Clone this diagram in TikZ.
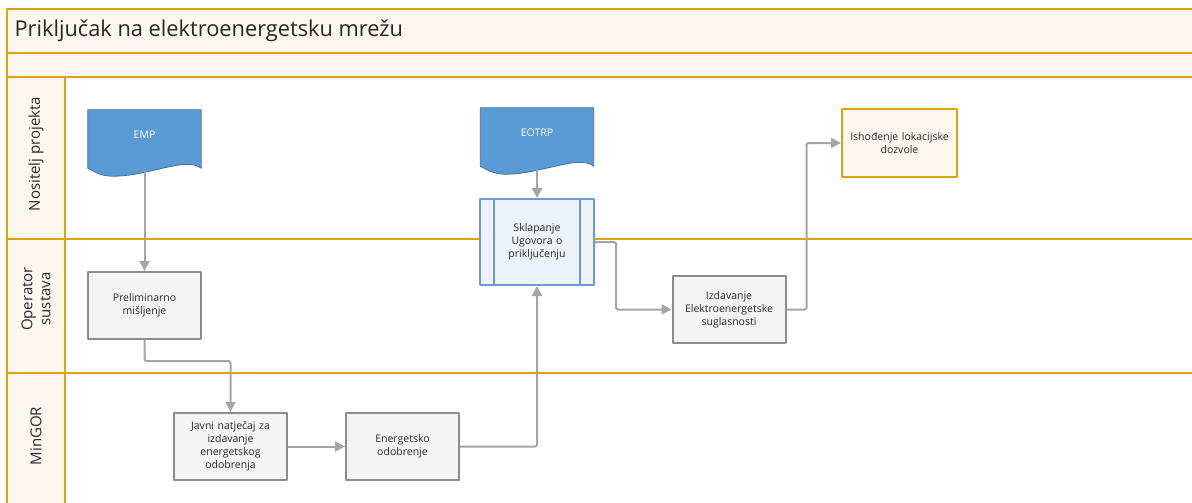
\documentclass[tikz,border=0pt]{standalone}
\usepackage{fontspec}
\setmainfont{Open Sans}
\usetikzlibrary{positioning,arrows.meta}
\definecolor{laneline}{HTML}{DBA411}
\definecolor{headfill}{HTML}{FEF7F0}
\definecolor{boxfill}{HTML}{F4F4F4}
\definecolor{boxdraw}{HTML}{8C8C8C}
\definecolor{docblue}{HTML}{5B9BD5}
\definecolor{docedge}{HTML}{41719C}
\definecolor{procfill}{HTML}{EEF3FA}
\definecolor{procedge}{HTML}{6A9BD3}
\definecolor{flowgray}{HTML}{A5A5A5}
\begin{document}
\begin{tikzpicture}[x=1pt,y=-1pt,line join=round,>={Triangle[length=10pt,width=10pt]}]
	\tikzset{
		every node/.style={font=\fontsize{10.5}{13}\selectfont, align=center, text=black!85},
		taskbox/.style={draw=boxdraw, fill=boxfill, line width=2pt, minimum width=113pt, minimum height=67pt, text width=104pt, inner sep=2pt},
		docbox/.style={minimum width=113pt, minimum height=58pt, inner sep=0pt},
		docshape/.style={fill=docblue, draw=docedge, line width=0.8pt},
		flow/.style={draw=flowgray, line width=2pt, ->, rounded corners=2pt},
		lanelabel/.style={rotate=90, font=\fontsize{15}{18}\selectfont},
		border/.style={draw=laneline, line width=2pt}
	}
	\useasboundingbox (0,0) rectangle (1192,503);
	\clip (0,0) rectangle (1192,503);
	\fill[white] (0,0) rectangle (1192,503);
	% pool and lanes
	\fill[headfill] (7,9) rectangle (1200,77);
	\fill[headfill] (7,77) rectangle (65,510);
	\draw[border] (1200,9) -- (7,9) -- (7,510);
	\draw[border] (7,53) -- (1200,53);
	\draw[border] (7,77) -- (1200,77);
	\draw[border] (65,77) -- (65,510);
	\foreach \y in {239,373}{
		\draw[border] (7,\y) -- (1200,\y);
	}
	\node[anchor=west, font=\fontsize{21.8}{24}\selectfont] (title) at (11,31) {Priključak na elektroenergetsku mrežu};
	\path
	(36,154) node[lanelabel] (lane1) {Nositelj projekta}
	(36,299) node[lanelabel] (lane2) {Operator\\sustava}
	(36,436) node[lanelabel] (lane3) {MinGOR}
	;
	% documents
	\node[docbox] (emp) at (144.5,139) {};
	\node[docbox] (eotrp) at (537,137) {};
	\foreach \d/\t in {emp/EMP,eotrp/EOTRP}{
		\filldraw[docshape] (\d.north west) -- (\d.north east) -- (\d.south east)
		.. controls +(-15,-12) and +(35,0) .. ([xshift=-31pt,yshift=-8pt]\d.south)
		.. controls +(-15,0) and +(5,2) .. (\d.south west) -- cycle;
		\node[text=white] (\d-text) at ([yshift=4pt]\d) {\t};
	}
	% tasks
	\node[taskbox] (prelim) at (144.5,305.5) {Preliminarno\\mišljenje};
	\node[taskbox] (javni) at (230.5,446.5) {Javni natječaj za\\izdavanje\\energetskog\\odobrenja};
	\node[taskbox] (energ) at (402.5,446.5) {Energetsko\\odobrenje};
	\node[taskbox, fill=procfill, draw=procedge, minimum width=114pt, minimum height=86pt, text width=80pt] (ugovor) at (537,242) {Sklapanje\\Ugovora o\\priključenju};
	\draw[procedge, line width=1.5pt] ([xshift=15pt]ugovor.north west) -- ([xshift=15pt]ugovor.south west)
	([xshift=-15pt]ugovor.north east) -- ([xshift=-15pt]ugovor.south east);
	\node[taskbox] (izdav) at (729,309.5) {Izdavanje\\Elektroenergetske\\suglasnosti};
	\node[taskbox, fill=headfill, draw=laneline, minimum width=115pt, minimum height=68pt] (ishod) at (899.5,143) {Ishođenje lokacijske\\dozvole};
	% flows
	\draw[flow] ([yshift=-3pt]emp.south) -- (prelim.north);
	\draw[flow] (prelim.south) -- ++(0,21) -| (javni.north);
	\draw[flow] (javni) -- (energ);
	\draw[flow] (energ.east) -| (ugovor.south);
	\draw[flow] ([yshift=-3pt]eotrp.south) -- (ugovor.north);
	\draw[flow] (ugovor.east) -- ++(21,0) |- (izdav.west);
	\draw[flow] (izdav.east) -- ++(20,0) |- (ishod.west);
\end{tikzpicture}
\end{document}
